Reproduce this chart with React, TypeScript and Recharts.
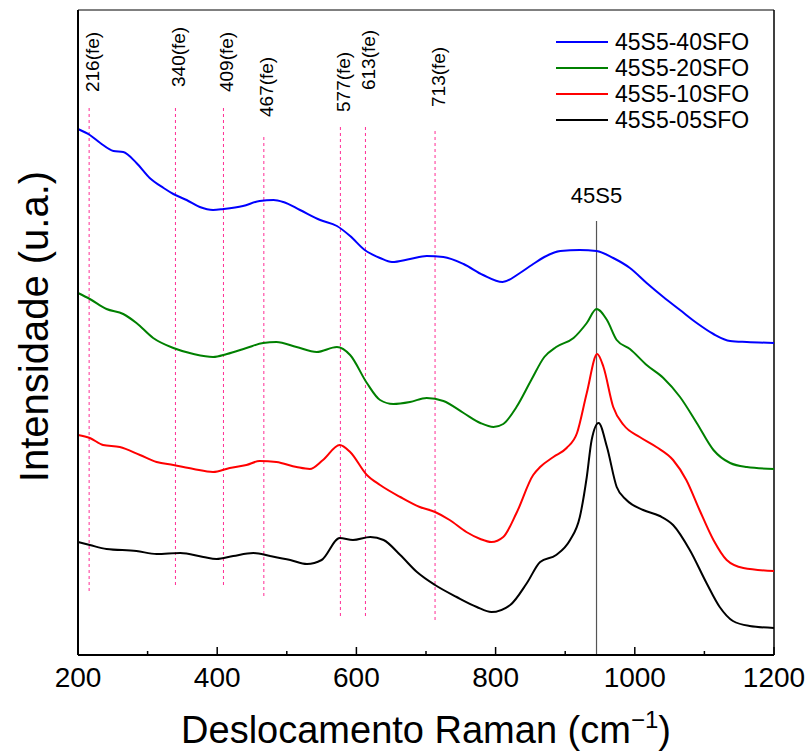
import { Legend, Line, LineChart, ReferenceLine, XAxis, YAxis } from "recharts";

const FONT = "Arial, 'Liberation Sans', sans-serif";

// Raman shift (cm-1) and intensity (a.u.)
const sfo40: [number, number][] = [
  [200, 526], [217, 520], [232, 512], [251, 504], [265, 503], [284, 492], [303, 477],
  [323, 467], [337, 461], [356, 455], [375, 448], [394, 445], [409, 446], [437, 449],
  [461, 454], [481, 455], [495, 453], [519, 445], [548, 435], [572, 429], [591, 419],
  [612, 405], [634, 397], [651, 393], [677, 396], [701, 399], [725, 398], [754, 391],
  [782, 380], [810, 373], [835, 382], [852, 390], [870, 398], [893, 404],
  [921, 405], [945, 404], [969, 397], [993, 387], [1017, 372], [1041, 358], [1065, 345],
  [1089, 332], [1113, 321], [1137, 314], [1161, 313], [1200, 312],
];

const sfo20: [number, number][] = [
  [200, 362], [217, 356], [241, 346], [265, 341], [284, 332], [308, 317], [337, 307],
  [366, 301], [394, 298], [414, 301], [442, 307], [466, 312], [485, 313], [514, 308],
  [543, 303], [572, 308], [591, 300], [615, 272], [634, 255], [653, 251], [677, 253],
  [701, 257], [725, 254], [754, 242], [778, 232], [797, 228], [811, 231], [830, 248],
  [852, 276], [870, 298], [887, 308], [912, 317], [931, 332], [945, 346], [960, 335],
  [974, 315], [993, 306], [1017, 290], [1041, 277], [1065, 258], [1089, 232], [1113, 205],
  [1137, 192], [1161, 188], [1200, 186],
];

const sfo10: [number, number][] = [
  [200, 220], [217, 217], [236, 210], [260, 208], [289, 200], [313, 193], [337, 190],
  [366, 186], [394, 183], [418, 187], [442, 190], [461, 194], [485, 193], [514, 188],
  [533, 186], [552, 195], [576, 210], [591, 203], [615, 180], [634, 170], [663, 158],
  [691, 148], [713, 143], [734, 135], [758, 123], [778, 116], [794, 113], [811, 118],
  [830, 142], [854, 180], [864, 188], [883, 198], [902, 207], [917, 222], [931, 262],
  [946, 301], [955, 288], [969, 248], [984, 230], [1007, 218], [1031, 208], [1055, 195],
  [1074, 175], [1093, 145], [1113, 115], [1132, 95], [1156, 87], [1200, 84],
];

const sfo05: [number, number][] = [
  [200, 113], [217, 110], [241, 106], [284, 104], [313, 101], [347, 102], [380, 98],
  [399, 96], [423, 99], [452, 102], [476, 99], [505, 95], [529, 91], [550, 95],
  [576, 117], [595, 115], [620, 118], [639, 115], [663, 100], [687, 83], [713, 70],
  [744, 58], [773, 48], [794, 43], [821, 50], [845, 72], [864, 93], [887, 100],
  [907, 115], [921, 138], [931, 178], [938, 215], [948, 232], [960, 208], [974, 168],
  [988, 155], [1012, 145], [1036, 139], [1055, 130], [1079, 105], [1103, 72], [1122, 48],
  [1141, 34], [1165, 29], [1200, 27],
];

// hematite / ferrite bands marked with dashed lines, with their vertical extent (a.u.)
const fePeaks = [216, 340, 409, 467, 577, 613, 713];
const feSpan: [number, number][] = [
  [547, 63], [547, 69], [547, 68], [518, 58], [528, 36], [528, 37], [524, 33],
];
const bioglassPeak = 945;
const bioglassSpan: [number, number] = [434, 0];

const xTicks = [200, 300, 400, 500, 600, 700, 800, 900, 1000, 1100, 1200];

// gap in px between each band label and the top of its dashed line
const feLabelGap = [16, 21, 16, 20, 15, 37, 24];

const series = [
  { name: "45S5-40SFO", color: "#0000ff", points: sfo40 },
  { name: "45S5-20SFO", color: "#008000", points: sfo20 },
  { name: "45S5-10SFO", color: "#ff0000", points: sfo10 },
  { name: "45S5-05SFO", color: "#000000", points: sfo05 },
];

const PINK = "#ff2d95";

function ShiftTick(props: any) {
  const { x, y, payload } = props;
  const major = payload.value % 200 === 0;
  return (
    <g>
      <line x1={x} x2={x} y1={y} y2={y - (major ? 8 : 4)} stroke="#000" strokeWidth={1.5} />
      {major && (
        <text x={x} y={y + 32} textAnchor="middle" fontSize={28} fontFamily={FONT} fill="#000">
          {payload.value}
        </text>
      )}
    </g>
  );
}

function bandLabel(text: string, gap: number) {
  return (props: any) => {
    const vb = props.viewBox;
    const x = vb.x + 3;
    const y = vb.y - gap;
    return (
      <text
        x={x}
        y={y}
        transform={`rotate(-90 ${x} ${y})`}
        dominantBaseline="central"
        fontSize={19}
        fontFamily={FONT}
        fill="#000"
      >
        {text}
      </text>
    );
  };
}

function renderLegend() {
  return (
    <div style={{ fontFamily: FONT, fontSize: 23, color: "#000" }}>
      {series.map((s) => (
        <div key={s.name} style={{ display: "flex", alignItems: "center", height: 26 }}>
          <svg width={52} height={4}>
            <line x1={0} x2={52} y1={2} y2={2} stroke={s.color} strokeWidth={2} />
          </svg>
          <span style={{ marginLeft: 7, lineHeight: "26px" }}>{s.name}</span>
        </div>
      ))}
    </div>
  );
}

export default function App() {
  return (
    <div style={{ position: "absolute", left: 0, top: 0, width: 809, height: 755, background: "#fff" }}>
      <LineChart
        width={809}
        height={755}
        margin={{ top: 10, right: 35, left: 77, bottom: 50 }}
        style={{ overflow: "visible" }}
      >
        <XAxis
          dataKey="x"
          type="number"
          domain={[200, 1200]}
          ticks={xTicks}
          tick={<ShiftTick />}
          tickLine={false}
          tickSize={0}
          tickMargin={0}
          height={50}
          axisLine={{ stroke: "#000", strokeWidth: 2 }}
          label={(p: any) => {
            const vb = p.viewBox;
            const cx = vb.x + vb.width / 2;
            return (
              <text x={cx} y={vb.y + 88} textAnchor="middle" fontSize={38} fontFamily={FONT} fill="#000">
                Deslocamento Raman (cm
                <tspan dy={-15} fontSize={24}>−1</tspan>
                <tspan dy={15}>)</tspan>
              </text>
            );
          }}
        />
        <YAxis
          type="number"
          domain={[0, 645]}
          tick={false}
          tickLine={false}
          width={1}
          axisLine={{ stroke: "#000", strokeWidth: 2 }}
          label={(p: any) => {
            const vb = p.viewBox;
            const x = 48;
            const y = vb.y + vb.height / 2 - 6;
            return (
              <text
                x={x}
                y={y}
                transform={`rotate(-90 ${x} ${y})`}
                textAnchor="middle"
                fontSize={40}
                fontFamily={FONT}
                fill="#000"
              >
                Intensidade (u.a.)
              </text>
            );
          }}
        />
        <ReferenceLine y={645} stroke="#000" strokeWidth={1} />
        <ReferenceLine x={1200} stroke="#000" strokeWidth={1.5} />
        {fePeaks.map((p, i) => (
          <ReferenceLine
            key={p}
            segment={[
              { x: p, y: feSpan[i][0] },
              { x: p, y: feSpan[i][1] },
            ]}
            stroke={PINK}
            strokeWidth={1}
            strokeDasharray="3 3"
            label={bandLabel(`${p}(fe)`, feLabelGap[i])}
          />
        ))}
        <ReferenceLine
          segment={[
            { x: bioglassPeak, y: bioglassSpan[0] },
            { x: bioglassPeak, y: bioglassSpan[1] },
          ]}
          stroke="#555"
          strokeWidth={1.2}
          label={(p: any) => (
            <text
              x={p.viewBox.x}
              y={p.viewBox.y - 18}
              textAnchor="middle"
              fontSize={22}
              fontFamily={FONT}
              fill="#000"
            >
              45S5
            </text>
          )}
        />
        {series.map((s) => (
          <Line
            key={s.name}
            name={s.name}
            data={s.points.map(([x, v]) => ({ x, v }))}
            dataKey="v"
            type="monotone"
            stroke={s.color}
            strokeWidth={2}
            dot={false}
            isAnimationActive={false}
          />
        ))}
        <Legend
          layout="horizontal"
          verticalAlign="middle"
          align="center"
          content={renderLegend}
          wrapperStyle={{ position: "absolute", left: 556, top: 29, width: 240, height: 110 }}
        />
      </LineChart>
    </div>
  );
}
